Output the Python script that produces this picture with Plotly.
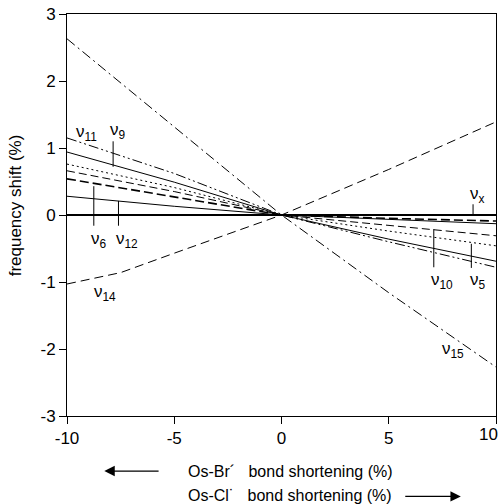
import plotly.graph_objects as go

# x positions (bond shortening, %)
x_pts = [-10, -5, 0, 5, 10]
x_nu14 = [-10, -7.5, -5, 0, 5, 10]

# tick labels
x_ticks = [-10, -5, 0, 5, 10]
x_ticklabels = ["-10", "-5", "0", "5", "10"]
y_ticks = [-3, -2, -1, 0, 1, 2, 3]
y_ticklabels = ["-3", "-2", "-1", "0", "1", "2", "3"]

# series values (frequency shift, %)
nu15 = [2.63, 1.31, 0.0, -1.16, -2.27]
nu14 = [-1.03, -0.86, -0.57, 0.0, 0.68, 1.39]
nu11 = [1.15, 0.62, 0.0, -0.40, -0.78]
nu9 = [0.94, 0.49, 0.0, -0.36, -0.69]
nu_dot = [0.76, 0.41, 0.0, -0.24, -0.46]
nu_ldash = [0.66, 0.35, 0.0, -0.16, -0.31]
nu6 = [0.54, 0.27, 0.0, -0.05, -0.09]
nu12 = [0.28, 0.13, 0.0, -0.07, -0.13]
nux = [0.0, 0.0, 0.0, 0.0, 0.0]

series = [
    ("ν15", x_pts, nu15, "10px,4px,2px,4px", 1),
    ("ν14", x_nu14, nu14, "9px,5px", 1),
    ("ν11", x_pts, nu11, "10px,3px,2px,3px,2px,3px", 1),
    ("ν9", x_pts, nu9, "solid", 1),
    ("dot", x_pts, nu_dot, "2px,3px", 1),
    ("ν10", x_pts, nu_ldash, "8px,4px", 1),
    ("ν6", x_pts, nu6, "9px,4px", 1.6),
    ("ν12", x_pts, nu12, "solid", 1),
    ("νx", x_pts, nux, "solid", 1.8),
]

fig = go.Figure()
for name, xs, ys, dash, w in series:
    fig.add_trace(go.Scatter(x=xs, y=ys, mode="lines", name=name,
                             line=dict(color="black", width=w, dash=dash),
                             showlegend=False))

# leader lines for labels: (x, y_top, y_bottom)
leaders = [(-7.85, 1.10, 0.72), (-8.75, 0.43, -0.16), (-7.6, 0.21, -0.16),
           (8.93, 0.16, 0.0), (7.1, -0.21, -0.78), (8.85, -0.43, -0.79)]
for lx, y0, y1 in leaders:
    fig.add_shape(type="line", x0=lx, x1=lx, y0=y0, y1=y1,
                  line=dict(color="black", width=1))

# labels: (text, x, y)
labels = [("ν<sub>11</sub>", -9.1, 1.22), ("ν<sub>9</sub>", -7.6, 1.26),
          ("ν<sub>6</sub>", -8.5, -0.38), ("ν<sub>12</sub>", -7.2, -0.38),
          ("ν<sub>14</sub>", -8.25, -1.17), ("ν<sub>x</sub>", 9.15, 0.3),
          ("ν<sub>10</sub>", 7.5, -0.98), ("ν<sub>5</sub>", 9.15, -0.98),
          ("ν<sub>15</sub>", 8.0, -2.02)]
for t, lx, ly in labels:
    fig.add_annotation(x=lx, y=ly, text=t, showarrow=False,
                       font=dict(size=17, color="black", family="Liberation Sans"))

fnt = "Liberation Sans, Arial"

# last x tick label drawn right-aligned so it stays inside the page
shown_x_text = x_ticklabels[:-1] + [""]
fig.add_annotation(xref="paper", yref="paper", x=1.01, y=-0.047,
                   xanchor="right", yanchor="middle", text=x_ticklabels[-1],
                   showarrow=False, font=dict(size=17, family=fnt, color="black"))

fig.add_annotation(xref="paper", yref="paper", x=0.52, y=-0.137,
                   xanchor="center", yanchor="middle",
                   text="Os-Br´\u00a0\u00a0 bond shortening (%)", showarrow=False,
                   font=dict(size=16, family=fnt, color="black"))
fig.add_annotation(xref="paper", yref="paper", x=0.52, y=-0.199,
                   xanchor="center", yanchor="middle",
                   text="Os-Cl˙\u00a0\u00a0 bond shortening (%)", showarrow=False,
                   font=dict(size=16, family=fnt, color="black"))
# y-axis title
fig.add_annotation(xref="paper", yref="paper", x=-0.118, y=0.525,
                   xanchor="center", yanchor="middle", textangle=-90,
                   text="frequency shift (%)", showarrow=False,
                   font=dict(size=17, family=fnt, color="black"))
# arrows
fig.add_annotation(xref="x domain", yref="y domain", x=0.087, y=-0.137,
                   ax=0.217, ay=-0.137, axref="x domain", ayref="y domain",
                   text="", showarrow=True, arrowhead=2, arrowsize=1.6,
                   arrowwidth=1.3, arrowcolor="black")
fig.add_annotation(xref="x domain", yref="y domain", x=0.918, y=-0.200,
                   ax=0.785, ay=-0.200, axref="x domain", ayref="y domain",
                   text="", showarrow=True, arrowhead=2, arrowsize=1.6,
                   arrowwidth=1.3, arrowcolor="black")

fig.update_layout(
    width=501, height=504,
    margin=dict(l=67, r=5, t=14, b=88, autoexpand=False),
    paper_bgcolor="white", plot_bgcolor="white",
    font=dict(family=fnt, color="black", size=17),
    xaxis=dict(range=[-10, 10], tickvals=x_ticks, ticktext=shown_x_text,
               automargin=False,
               showgrid=False, zeroline=False, showline=True, mirror=True,
               linecolor="black", linewidth=1, ticks="outside", ticklen=7,
               tickcolor="black", tickfont=dict(size=17, family=fnt)),
    yaxis=dict(range=[-3, 3], tickvals=y_ticks, ticktext=y_ticklabels,
               automargin=False,
               showgrid=False, zeroline=False, showline=True, mirror=True,
               linecolor="black", linewidth=1, ticks="outside", ticklen=7,
               tickcolor="black", tickfont=dict(size=17, family=fnt)),
)

fig.write_html("out.html")
